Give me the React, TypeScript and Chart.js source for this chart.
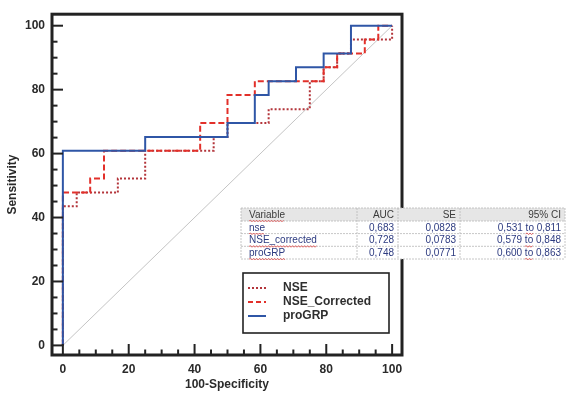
import React, { useEffect, useRef } from 'react';
import { Chart, registerables } from 'chart.js';

Chart.register(...registerables);

// ROC operating points (100-Specificity, Sensitivity)
const NSE_X = [0, 0, 4.2, 16.7, 25, 45.8, 50, 62.5, 75, 79.2, 83.3, 87.5, 100];
const NSE_Y = [0, 43.5, 47.8, 52.2, 60.9, 65.2, 69.6, 73.9, 82.6, 87.0, 91.3, 95.7, 100];

const NSEC_X = [0, 0, 8.3, 12.5, 41.7, 50, 58.3, 79.2, 83.3, 91.7, 95.8, 100];
const NSEC_Y = [0, 47.8, 52.2, 60.9, 69.6, 78.3, 82.6, 87.0, 91.3, 95.7, 100, 100];

const PRO_X = [0, 0, 25, 50, 58.3, 62.5, 70.8, 79.2, 87.5, 100];
const PRO_Y = [0, 60.9, 65.2, 69.6, 78.3, 82.6, 87.0, 91.3, 100, 100];

const DIAG_X = [0, 100];
const DIAG_Y = [0, 100];

const SERIES_LABELS = ['NSE', 'NSE_Corrected', 'proGRP'];

const MAJOR_TICKS = [0, 20, 40, 60, 80, 100];
const MINOR_TICKS = [5, 10, 15, 25, 30, 35, 45, 50, 55, 65, 70, 75, 85, 90, 95];

const TABLE_HEADERS = ['Variable', 'AUC', 'SE', '95% CI'];
const TABLE_VARS = ['nse', 'NSE_corrected', 'proGRP'];
const TABLE_AUC = ['0,683', '0,728', '0,748'];
const TABLE_SE = ['0,0828', '0,0783', '0,0771'];
const TABLE_CI_LO = ['0,531', '0,579', '0,600'];
const TABLE_CI_HI = ['0,811', '0,848', '0,863'];

const FONT = '"Liberation Sans", Arial, sans-serif';
const COL_NSE = '#b3343a';
const COL_NSEC = '#e2302a';
const COL_PRO = '#2f56a6';

const pts = (xs: number[], ys: number[]) => xs.map((x, i) => ({ x, y: ys[i] }));

function squiggle(ctx: CanvasRenderingContext2D, x0: number, x1: number, y: number) {
  ctx.save();
  ctx.strokeStyle = '#e04848';
  ctx.lineWidth = 0.8;
  ctx.setLineDash([]);
  ctx.beginPath();
  let up = true;
  ctx.moveTo(x0, y);
  for (let x = x0 + 1.5; x <= x1; x += 1.5) {
    ctx.lineTo(x, up ? y - 0.8 : y + 0.8);
    up = !up;
  }
  ctx.stroke();
  ctx.restore();
}

const overlayPlugin = {
  id: 'overlay',
  afterDraw(chart: any) {
    const ctx: CanvasRenderingContext2D = chart.ctx;
    const { left, right, top, bottom } = chart.chartArea;
    const xs = chart.scales.x;
    const ys = chart.scales.y;
    ctx.save();
    // frame
    ctx.strokeStyle = '#222';
    ctx.lineWidth = 3;
    ctx.setLineDash([]);
    ctx.strokeRect(left, top, right - left, bottom - top);
    // ticks inside
    ctx.lineWidth = 2;
    const drawTicks = (vals: number[], len: number) => {
      vals.forEach((v) => {
        const py = ys.getPixelForValue(v);
        ctx.beginPath();
        ctx.moveTo(left, py);
        ctx.lineTo(left + len, py);
        ctx.stroke();
        const px = xs.getPixelForValue(v);
        ctx.beginPath();
        ctx.moveTo(px, bottom);
        ctx.lineTo(px, bottom - len);
        ctx.stroke();
      });
    };
    drawTicks(MAJOR_TICKS, 11);
    drawTicks(MINOR_TICKS, 5.5);

    // table
    const cx = [241, 357, 398, 460, 565];
    const ry = [208, 221, 233.6, 246.3, 259];
    ctx.fillStyle = '#ffffff';
    ctx.fillRect(cx[0], ry[0], cx[4] - cx[0], ry[4] - ry[0]);
    ctx.fillStyle = '#e6e6e6';
    ctx.fillRect(cx[0], ry[0], cx[4] - cx[0], ry[1] - ry[0]);
    ctx.strokeStyle = '#b8b8b8';
    ctx.lineWidth = 0.8;
    ctx.setLineDash([2, 1]);
    ry.forEach((y) => {
      ctx.beginPath();
      ctx.moveTo(cx[0], y);
      ctx.lineTo(cx[4], y);
      ctx.stroke();
    });
    cx.forEach((x) => {
      ctx.beginPath();
      ctx.moveTo(x, ry[0]);
      ctx.lineTo(x, ry[4]);
      ctx.stroke();
    });
    ctx.setLineDash([]);
    ctx.font = `10px ${FONT}`;
    ctx.textBaseline = 'middle';
    const hy = (ry[0] + ry[1]) / 2 + 0.5;
    ctx.fillStyle = '#3a3a3a';
    ctx.textAlign = 'left';
    ctx.fillText(TABLE_HEADERS[0], cx[0] + 8, hy);
    squiggle(ctx, cx[0] + 8, cx[0] + 8 + ctx.measureText(TABLE_HEADERS[0]).width, hy + 6);
    ctx.fillStyle = '#3a3a3a';
    ctx.textAlign = 'right';
    ctx.fillText(TABLE_HEADERS[1], cx[2] - 4, hy);
    ctx.fillText(TABLE_HEADERS[2], cx[3] - 4, hy);
    ctx.fillText(TABLE_HEADERS[3], cx[4] - 4, hy);
    TABLE_VARS.forEach((v, i) => {
      const y = (ry[i + 1] + ry[i + 2]) / 2 + 0.5;
      ctx.fillStyle = '#2d3b80';
      ctx.textAlign = 'left';
      ctx.fillText(v, cx[0] + 8, y);
      squiggle(ctx, cx[0] + 8, cx[0] + 8 + ctx.measureText(v).width, y + 6);
      ctx.fillStyle = '#2d3b80';
      ctx.textAlign = 'right';
      ctx.fillText(TABLE_AUC[i], cx[2] - 4, y);
      ctx.fillText(TABLE_SE[i], cx[3] - 4, y);
      const hi = TABLE_CI_HI[i];
      const rx = cx[4] - 4;
      ctx.fillText(hi, rx, y);
      const wHi = ctx.measureText(' ' + hi).width;
      ctx.fillText('to', rx - wHi, y);
      const wTo = ctx.measureText('to').width;
      squiggle(ctx, rx - wHi - wTo, rx - wHi, y + 6);
      ctx.fillStyle = '#2d3b80';
      ctx.fillText(TABLE_CI_LO[i] + ' ', rx - wHi - wTo, y);
    });

    // legend
    const lx0 = 243, ly0 = 273, lx1 = 389, ly1 = 333;
    ctx.fillStyle = '#ffffff';
    ctx.fillRect(lx0, ly0, lx1 - lx0, ly1 - ly0);
    ctx.strokeStyle = '#222';
    ctx.lineWidth = 1.6;
    ctx.strokeRect(lx0, ly0, lx1 - lx0, ly1 - ly0);
    const items = [
      { c: COL_NSE, d: [2, 2] },
      { c: COL_NSEC, d: [5, 3] },
      { c: COL_PRO, d: [] as number[] },
    ];
    const rowsY = [288, 302, 316];
    items.forEach((it, i) => {
      ctx.strokeStyle = it.c;
      ctx.lineWidth = 2;
      ctx.setLineDash(it.d);
      ctx.beginPath();
      ctx.moveTo(248, rowsY[i]);
      ctx.lineTo(266, rowsY[i]);
      ctx.stroke();
      ctx.setLineDash([]);
      ctx.fillStyle = '#2e2e2e';
      ctx.font = `bold 12px ${FONT}`;
      ctx.textAlign = 'left';
      ctx.textBaseline = 'middle';
      ctx.fillText(SERIES_LABELS[i], 283, rowsY[i]);
    });
    ctx.restore();
  },
};

export default function App() {
  const ref = useRef<HTMLCanvasElement | null>(null);
  useEffect(() => {
    document.body.style.margin = '0';
    const canvas = ref.current;
    if (!canvas) return;
    const chart = new Chart(canvas, {
      type: 'line',
      data: {
        datasets: [
          {
            label: SERIES_LABELS[2],
            data: pts(PRO_X, PRO_Y),
            borderColor: COL_PRO,
            borderWidth: 2,
            stepped: 'before',
            pointRadius: 0,
            fill: false,
            order: 0,
          },
          {
            label: SERIES_LABELS[1],
            data: pts(NSEC_X, NSEC_Y),
            borderColor: COL_NSEC,
            borderWidth: 2,
            borderDash: [6, 3],
            stepped: 'before',
            pointRadius: 0,
            fill: false,
            order: 1,
          },
          {
            label: SERIES_LABELS[0],
            data: pts(NSE_X, NSE_Y),
            borderColor: COL_NSE,
            borderWidth: 2,
            borderDash: [2, 2],
            stepped: 'before',
            pointRadius: 0,
            fill: false,
            order: 2,
          },
          {
            label: 'diag',
            data: pts(DIAG_X, DIAG_Y),
            borderColor: '#b5b5b5',
            borderWidth: 0.8,
            pointRadius: 0,
            fill: false,
            order: 3,
          },
        ],
      },
      options: {
        animation: false,
        responsive: false,
        maintainAspectRatio: false,
        layout: { padding: { left: 0, top: 5, right: 168, bottom: 0 } },
        plugins: { legend: { display: false }, tooltip: { enabled: false } },
        scales: {
          x: {
            type: 'linear',
            min: -3.3,
            max: 103,
            grid: { display: false, drawTicks: false },
            border: { display: false },
            afterBuildTicks: (s: any) => {
              s.ticks = MAJOR_TICKS.map((v) => ({ value: v }));
            },
            afterFit: (s: any) => {
              s.height = 45;
            },
            ticks: {
              padding: 7,
              color: '#2a2a2a',
              font: { family: FONT, size: 12, weight: 'bold' },
              maxRotation: 0,
              autoSkip: false,
            },
            title: {
              display: true,
              text: '100-Specificity',
              color: '#2a2a2a',
              font: { family: FONT, size: 12, weight: 'bold' },
              padding: { top: 0, bottom: 8 },
            },
          },
          y: {
            type: 'linear',
            min: -3,
            max: 103.6,
            grid: { display: false, drawTicks: false },
            border: { display: false },
            afterBuildTicks: (s: any) => {
              s.ticks = MAJOR_TICKS.map((v) => ({ value: v }));
            },
            afterFit: (s: any) => {
              s.width = 52;
            },
            ticks: {
              padding: 7,
              color: '#2a2a2a',
              font: { family: FONT, size: 12, weight: 'bold' },
              autoSkip: false,
            },
            title: {
              display: true,
              text: 'Sensitivity',
              color: '#2a2a2a',
              font: { family: FONT, size: 12, weight: 'bold' },
              padding: { top: 5, bottom: 0 },
            },
          },
        },
      },
      plugins: [overlayPlugin],
    } as any);
    return () => chart.destroy();
  }, []);
  return (
    <div style={{ width: 570, height: 400 }}>
      <canvas ref={ref} width={570} height={400} style={{ display: 'block' }} />
    </div>
  );
}
